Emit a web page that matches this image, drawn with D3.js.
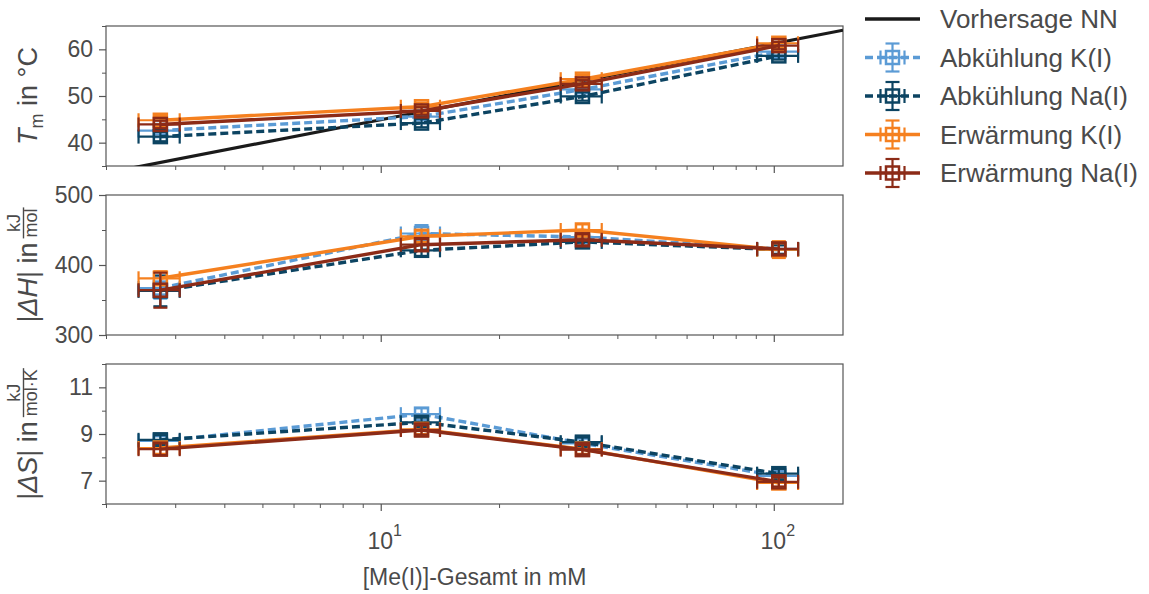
<!DOCTYPE html>
<html>
<head>
<meta charset="utf-8">
<script src="https://cdn.jsdelivr.net/npm/d3@7"></script>
<style>
  body { margin: 0; background: #fff; }
  svg { display: block; }
  text { font-family: "Liberation Sans", Arial, Helvetica, sans-serif; fill: #4a4a4a; }
</style>
</head>
<body>
<svg id="chart" width="1149" height="594"></svg>
<script>
// Total monovalent-cation concentration (mM) and its uncertainty
const conc    = [2.75, 12.7, 32.6, 103];
const concErr = [0.33, 1.45, 3.9, 12.3];

// Nearest-neighbour prediction of the melting temperature
const predConc = [2, 10, 150];
const predTm   = [33.5, 44.9, 64.1];

const seriesNames  = ["Abkühlung K(I)", "Abkühlung Na(I)", "Erwärmung K(I)", "Erwärmung Na(I)"];
const seriesColors = ["#5b9bd5", "#0c4462", "#f5801f", "#8c2b17"];
const seriesDashed = [true, true, false, false];

// Melting temperature Tm (°C)
const tmAbkK   = [42.6, 45.6, 51.4, 59.5];
const tmAbkNa  = [41.3, 44.2, 49.9, 58.6];
const tmErwK   = [44.8, 47.7, 53.6, 61.3];
const tmErwNa  = [43.9, 46.8, 52.6, 60.8];
const tmErrAbkK  = [0.8, 0.8, 0.8, 0.8];
const tmErrAbkNa = [1.0, 0.9, 0.9, 0.8];
const tmErrErwK  = [0.9, 0.9, 0.9, 0.9];
const tmErrErwNa = [0.8, 0.8, 0.8, 0.8];

// |ΔH| (kJ/mol)
const dhAbkK   = [367, 445, 440, 423];
const dhAbkNa  = [363, 421, 433, 422];
const dhErwK   = [381, 441, 450, 422];
const dhErwNa  = [364, 429, 436, 423];
const dhErrAbkK  = [15, 12, 8, 8];
const dhErrAbkNa = [22, 8, 8, 6];
const dhErrErwK  = [10, 8, 8, 12];
const dhErrErwNa = [25, 8, 8, 8];

// |ΔS| (kJ/(mol·K))
const dsAbkK   = [8.70, 9.85, 8.60, 7.20];
const dsAbkNa  = [8.75, 9.50, 8.65, 7.30];
const dsErwK   = [8.40, 9.20, 8.35, 6.90];
const dsErwNa  = [8.35, 9.17, 8.33, 6.95];
const dsErrAbkK  = [0.2, 0.25, 0.2, 0.2];
const dsErrAbkNa = [0.2, 0.2, 0.2, 0.2];
const dsErrErwK  = [0.25, 0.2, 0.2, 0.25];
const dsErrErwNa = [0.25, 0.2, 0.2, 0.2];

// Axis ticks
const xMajorTicks = [10, 100];
const tmTicks = [40, 50, 60];
const tmMinorTicks = [35, 45, 55, 65];
const dhTicks = [300, 400, 500];
const dhMinorTicks = [350, 450];
const dsTicks = [7, 9, 11];
const dsMinorTicks = [6, 8, 10, 12];

const svg = d3.select("#chart");
const plotLeft = 106, plotRight = 843, panelH = 140;
const textColor = "#4a4a4a", spineColor = "#555";

const x = d3.scaleLog().domain([2, 150]).range([plotLeft, plotRight]);
const xMinorTicks = x.ticks().filter(v => !xMajorTicks.includes(v));

const panels = [
  { top: 26, domain: [35, 65], ticks: tmTicks, minor: tmMinorTicks,
    values: [tmAbkK, tmAbkNa, tmErwK, tmErwNa],
    errs: [tmErrAbkK, tmErrAbkNa, tmErrErwK, tmErrErwNa], label: "tm", pred: true },
  { top: 195, domain: [300, 500], ticks: dhTicks, minor: dhMinorTicks,
    values: [dhAbkK, dhAbkNa, dhErwK, dhErwNa],
    errs: [dhErrAbkK, dhErrAbkNa, dhErrErwK, dhErrErwNa], label: "dh" },
  { top: 364, domain: [6, 12], ticks: dsTicks, minor: dsMinorTicks,
    values: [dsAbkK, dsAbkNa, dsErwK, dsErwNa],
    errs: [dsErrAbkK, dsErrAbkNa, dsErrErwK, dsErrErwNa], label: "ds", bottom: true }
];

const cap = 7, markerSize = 13;

panels.forEach((p, pi) => {
  const y = d3.scaleLinear().domain(p.domain).range([p.top + panelH, p.top]);
  const g = svg.append("g");

  const clipId = "clip" + pi;
  svg.append("clipPath").attr("id", clipId).append("rect")
    .attr("x", plotLeft).attr("y", p.top).attr("width", plotRight - plotLeft).attr("height", panelH);

  // y axis
  const yAxis = d3.axisLeft(y).tickValues(p.ticks).tickSize(7).tickPadding(6).tickFormat(d3.format("d"));
  const ya = g.append("g").attr("transform", `translate(${plotLeft},0)`).call(yAxis);
  ya.select(".domain").remove();
  ya.selectAll("line").attr("stroke", spineColor).attr("stroke-width", 1.2);
  ya.selectAll("text").attr("fill", textColor).style("font-size", "23px");
  const yMin = g.append("g").attr("transform", `translate(${plotLeft},0)`)
    .call(d3.axisLeft(y).tickValues(p.minor).tickSize(4).tickFormat(""));
  yMin.select(".domain").remove();
  yMin.selectAll("line").attr("stroke", spineColor).attr("stroke-width", 1);

  // x axis (ticks on every panel, labels only on the lowest)
  const xa = g.append("g").attr("transform", `translate(0,${p.top + panelH})`)
    .call(d3.axisBottom(x).tickValues(xMajorTicks).tickSize(7).tickFormat(""));
  xa.select(".domain").remove();
  xa.selectAll("line").attr("stroke", spineColor).attr("stroke-width", 1.2);
  const xm = g.append("g").attr("transform", `translate(0,${p.top + panelH})`)
    .call(d3.axisBottom(x).tickValues(xMinorTicks).tickSize(4).tickFormat(""));
  xm.select(".domain").remove();
  xm.selectAll("line").attr("stroke", spineColor).attr("stroke-width", 1);

  if (p.bottom) {
    xMajorTicks.forEach(v => {
      const t = g.append("text").attr("x", x(v) + 4).attr("y", p.top + panelH + 45)
        .attr("text-anchor", "middle").style("font-size", "23px");
      t.append("tspan").text("10");
      t.append("tspan").attr("dy", -13).style("font-size", "16px").text(Math.round(Math.log10(v)));
    });
  }

  // frame
  g.append("rect").attr("x", plotLeft).attr("y", p.top)
    .attr("width", plotRight - plotLeft).attr("height", panelH)
    .attr("fill", "none").attr("stroke", spineColor).attr("stroke-width", 1.2);

  const plot = g.append("g").attr("clip-path", `url(#${clipId})`);

  if (p.pred) {
    plot.append("path")
      .attr("d", d3.line().x((d, i) => x(predConc[i])).y(d => y(d))(predTm))
      .attr("fill", "none").attr("stroke", "#1a1a1a").attr("stroke-width", 3.2);
  }

  seriesNames.forEach((name, si) => {
    const vals = p.values[si], errs = p.errs[si], col = seriesColors[si];
    const sg = svg.append("g");
    // error bars
    vals.forEach((v, i) => {
      const cx = x(conc[i]), cy = y(v);
      const x0 = x(conc[i] - concErr[i]), x1 = x(conc[i] + concErr[i]);
      const y0 = y(v - errs[i]), y1 = y(v + errs[i]);
      const eb = sg.append("g").attr("stroke", col).attr("stroke-width", 2.2);
      eb.append("line").attr("x1", x0).attr("x2", x1).attr("y1", cy).attr("y2", cy);
      eb.append("line").attr("x1", x0).attr("x2", x0).attr("y1", cy - cap).attr("y2", cy + cap);
      eb.append("line").attr("x1", x1).attr("x2", x1).attr("y1", cy - cap).attr("y2", cy + cap);
      eb.append("line").attr("x1", cx).attr("x2", cx).attr("y1", y0).attr("y2", y1);
      eb.append("line").attr("x1", cx - cap).attr("x2", cx + cap).attr("y1", y0).attr("y2", y0);
      eb.append("line").attr("x1", cx - cap).attr("x2", cx + cap).attr("y1", y1).attr("y2", y1);
    });
    // connecting line
    sg.append("path")
      .attr("d", d3.line().x((d, i) => x(conc[i])).y(d => y(d))(vals))
      .attr("fill", "none").attr("stroke", col).attr("stroke-width", 3.4)
      .attr("stroke-dasharray", seriesDashed[si] ? "8,4" : null);
    // open square markers
    sg.selectAll("rect.m").data(vals).enter().append("rect")
      .attr("x", (d, i) => x(conc[i]) - markerSize / 2)
      .attr("y", d => y(d) - markerSize / 2)
      .attr("width", markerSize).attr("height", markerSize)
      .attr("fill", "none").attr("stroke", col).attr("stroke-width", 2.5);
  });

  // rotated y label
  const cy = p.top + panelH / 2;
  const lg = svg.append("g").attr("transform", `translate(37,${cy}) rotate(-90)`);
  const t = lg.append("text").style("font-size", "27px");
  let num = null, den = null;
  if (p.label === "tm") {
    t.append("tspan").style("font-style", "italic").text("T");
    t.append("tspan").attr("dy", 6).style("font-size", "18px").text("m");
    t.append("tspan").attr("dy", -6).text(" in °C");
  } else {
    t.append("tspan").text("|");
    t.append("tspan").style("font-style", "italic").text(p.label === "dh" ? "ΔH" : "ΔS");
    t.append("tspan").text("| in ");
    num = "kJ";
    den = p.label === "dh" ? "mol" : "mol·K";
  }
  const wMain = t.node().getComputedTextLength();
  if (num) {
    const gap = 4;
    const nt = lg.append("text").style("font-size", "18px").attr("text-anchor", "middle").attr("y", -17).text(num);
    const dt = lg.append("text").style("font-size", "18px").attr("text-anchor", "middle").attr("y", 0).text(den);
    const wf = Math.max(nt.node().getComputedTextLength(), dt.node().getComputedTextLength()) + 2;
    const total = wMain + gap + wf;
    const start = -total / 2;
    t.attr("x", start);
    const fx = start + wMain + gap;
    nt.attr("x", fx + wf / 2);
    dt.attr("x", fx + wf / 2);
    lg.append("line").attr("x1", fx).attr("x2", fx + wf).attr("y1", -13.5).attr("y2", -13.5)
      .attr("stroke", textColor).attr("stroke-width", 1.4);
  } else {
    t.attr("x", -wMain / 2);
  }
});

// x axis label
svg.append("text").attr("x", (plotLeft + plotRight) / 2).attr("y", 585)
  .attr("text-anchor", "middle").style("font-size", "23px").text("[Me(I)]-Gesamt in mM");

// legend
const legRows = ["Vorhersage NN"].concat(seriesNames);
const legColors = ["#1a1a1a"].concat(seriesColors);
const legDashed = [false].concat(seriesDashed);
legRows.forEach((name, i) => {
  const ly = 19 + i * 38.5;
  const lg = svg.append("g").attr("stroke", legColors[i]);
  const hx0 = 865, hx1 = 920, hc = 892.5;
  lg.append("line").attr("x1", hx0).attr("x2", hx1).attr("y1", ly).attr("y2", ly)
    .attr("stroke-width", 3.4).attr("stroke-dasharray", legDashed[i] ? "8,4" : null);
  if (i > 0) {
    const eb = lg.append("g").attr("stroke-width", 2.2);
    eb.append("line").attr("x1", hc - 12).attr("x2", hc + 12).attr("y1", ly).attr("y2", ly);
    eb.append("line").attr("x1", hc - 12).attr("x2", hc - 12).attr("y1", ly - cap).attr("y2", ly + cap);
    eb.append("line").attr("x1", hc + 12).attr("x2", hc + 12).attr("y1", ly - cap).attr("y2", ly + cap);
    eb.append("line").attr("x1", hc).attr("x2", hc).attr("y1", ly - 14).attr("y2", ly + 14);
    eb.append("line").attr("x1", hc - cap).attr("x2", hc + cap).attr("y1", ly - 14).attr("y2", ly - 14);
    eb.append("line").attr("x1", hc - cap).attr("x2", hc + cap).attr("y1", ly + 14).attr("y2", ly + 14);
    lg.append("rect").attr("x", hc - markerSize / 2).attr("y", ly - markerSize / 2)
      .attr("width", markerSize).attr("height", markerSize)
      .attr("fill", "none").attr("stroke-width", 2.5);
  }
  svg.append("text").attr("x", 940).attr("y", ly).attr("dy", "0.35em")
    .style("font-size", "26px").text(name);
});
</script>
</body>
</html>
